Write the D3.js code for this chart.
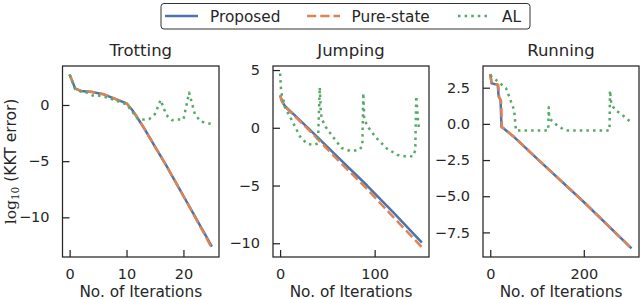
<!DOCTYPE html>
<html>
<head>
<meta charset="utf-8">
<script src="https://cdn.jsdelivr.net/npm/d3@7"></script>
<style>
  html, body { margin: 0; padding: 0; background: #fff; }
  svg { display: block; }
  text { font-family: "DejaVu Sans", sans-serif; fill: #262626; }
</style>
</head>
<body>
<svg id="chart" width="640" height="299"></svg>
<script>
// ---------------- data ----------------
const seriesNames = ["Proposed", "Pure-state", "AL"];
const panelTitles = ["Trotting", "Jumping", "Running"];

// Trotting
const trotX = [0,1,2,3,4,5,6,7,8,9,10,11,12,13,14,15,16,17,18,19,20,21,22,23,24,25];
const trotProposed = [2.7,1.45,1.25,1.2,1.15,1.05,0.95,0.75,0.55,0.35,0.15,-0.45,-1.2,-2.0,-2.85,-3.7,-4.55,-5.4,-6.3,-7.2,-8.1,-9.0,-9.9,-10.8,-11.7,-12.6];
const trotPure     = [2.7,1.45,1.25,1.2,1.15,1.05,0.95,0.75,0.55,0.35,0.15,-0.45,-1.2,-2.0,-2.85,-3.7,-4.55,-5.4,-6.3,-7.2,-8.1,-9.0,-9.95,-10.85,-11.8,-12.75];
const trotAL       = [2.7,1.4,1.2,1.1,0.85,0.85,0.75,0.6,0.4,0.25,0.05,-0.6,-1.25,-1.3,-1.25,-0.8,0.45,-0.9,-1.35,-1.3,-1.3,1.1,-0.8,-1.45,-1.6,-1.7];

// Jumping
const jumpX        = [0,2,5,30,60,92,120,150];
const jumpProposed = [2.8,2.3,1.9,-0.05,-2.45,-5.0,-7.35,-9.95];
const jumpPure     = [2.8,2.3,1.85,-0.15,-2.7,-5.3,-7.75,-10.35];
const jumpALX      = [0,1,2,3,5,14,21,28,35,40,42,43,44,48,57,65,74,83,87,88,89,94,102,113,124,134,141,143,144,146,147,148];
const jumpAL       = [4.7,3.3,2.75,2.6,1.8,0.4,-0.75,-1.35,-1.5,-1.35,3.5,1.5,0.8,0.1,-0.9,-1.75,-2.0,-1.95,-1.6,3.0,0.7,-0.05,-0.9,-1.8,-2.35,-2.5,-2.45,-1.9,2.75,0.5,-0.05,-0.1];

// Running
const runX         = [0,3,16,18,22,24,28,49,100,200,302];
const runProposed  = [3.45,2.8,2.7,1.9,1.65,-0.2,-0.3,-0.85,-2.4,-5.4,-8.6];
const runPureX     = [0,3,17,19,23,25,28,49,100,200,302];
const runPure      = [3.45,2.8,2.7,1.85,1.6,-0.25,-0.3,-0.85,-2.4,-5.4,-8.6];
const runALX       = [0,10,21,34,42,51,55,60,124,125,126,130,141,155,165,255,256,258,260,268,289,303];
const runAL        = [3.35,3.1,2.8,2.45,1.75,0.95,-0.45,-0.45,-0.45,1.15,0.4,0.27,-0.05,-0.35,-0.45,-0.45,2.3,1.6,1.3,0.95,0.45,0.05];

// tick values
const trotXTicks = [0,10,20],  trotYTicks = [0,-5,-10];
const jumpXTicks = [0,100],    jumpYTicks = [5,0,-5,-10];
const runXTicks  = [0,200],    runYTicks  = [2.5,0,-2.5,-5,-7.5];

// ---------------- style / layout ----------------
const colors = ["#4c72b0", "#dd8452", "#55a868"];
const dashes = [null, "9.25,4", "2.5,4.1"];
const lw = 2.5;
const TOP = 66, BOTTOM = 257;

const zip = (xs, ys) => xs.map((x, i) => [x, ys[i]]);

const panels = [
  { title: panelTitles[0], left: 62.5, right: 219, xDomain: [-1.25, 26.25], yDomain: [-13.53, 3.47],
    xTicks: trotXTicks, yTicks: trotYTicks, yFmt: d3.format("d"),
    series: [zip(trotX, trotProposed), zip(trotX, trotPure), zip(trotX, trotAL)] },
  { title: panelTitles[1], left: 273, right: 429, xDomain: [-7.5, 157.5], yDomain: [-11.19, 5.35],
    xTicks: jumpXTicks, yTicks: jumpYTicks, yFmt: d3.format("d"),
    series: [zip(jumpX, jumpProposed), zip(jumpX, jumpPure), zip(jumpALX, jumpAL)] },
  { title: panelTitles[2], left: 483, right: 639, xDomain: [-15.5, 318], yDomain: [-9.2, 4.0],
    xTicks: runXTicks, yTicks: runYTicks, yFmt: d3.format(".1f"),
    series: [zip(runX, runProposed), zip(runPureX, runPure), zip(runALX, runAL)] }
];

const svg = d3.select("#chart");
const defs = svg.append("defs");

panels.forEach((p, k) => {
  const x = d3.scaleLinear().domain(p.xDomain).range([p.left, p.right]);
  const y = d3.scaleLinear().domain(p.yDomain).range([BOTTOM, TOP]);
  const g = svg.append("g");

  defs.append("clipPath").attr("id", "clip" + k)
    .append("rect").attr("x", p.left).attr("y", TOP)
    .attr("width", p.right - p.left).attr("height", BOTTOM - TOP);

  const line = d3.line().x(d => x(d[0])).y(d => y(d[1]));
  const lines = g.append("g").attr("clip-path", `url(#clip${k})`);
  p.series.forEach((s, i) => {
    lines.append("path").datum(s)
      .attr("d", line)
      .attr("fill", "none")
      .attr("stroke", colors[i])
      .attr("stroke-width", lw)
      .attr("stroke-dasharray", dashes[i])
      .attr("stroke-linejoin", "round");
  });

  // axes (inward ticks)
  const xAxis = d3.axisBottom(x).tickValues(p.xTicks).tickSize(-7).tickPadding(12).tickFormat(d3.format("d"));
  const yAxis = d3.axisLeft(y).tickValues(p.yTicks).tickSize(-7).tickPadding(13).tickFormat(p.yFmt);
  const gx = g.append("g").attr("transform", `translate(0,${BOTTOM})`).call(xAxis);
  const gy = g.append("g").attr("transform", `translate(${p.left},0)`).call(yAxis);
  [gx, gy].forEach(a => {
    a.select(".domain").remove();
    a.selectAll(".tick line").attr("stroke", "#262626").attr("stroke-width", 1.25);
    a.selectAll(".tick text").attr("font-size", 14.5).attr("fill", "#262626")
      .attr("font-family", "DejaVu Sans, sans-serif");
  });

  // frame
  g.append("rect").attr("x", p.left).attr("y", TOP)
    .attr("width", p.right - p.left).attr("height", BOTTOM - TOP)
    .attr("fill", "none").attr("stroke", "#262626").attr("stroke-width", 1.25);

  // title
  g.append("text").attr("x", (p.left + p.right) / 2).attr("y", 56)
    .attr("text-anchor", "middle").attr("font-size", 16.5).text(p.title);

  // x label
  g.append("text").attr("x", (p.left + p.right) / 2).attr("y", 296.5)
    .attr("text-anchor", "middle").attr("font-size", 15.3).text("No. of Iterations");
});

// y label
const yl = svg.append("text")
  .attr("transform", `translate(16,${(TOP + BOTTOM) / 2}) rotate(-90)`)
  .attr("text-anchor", "middle").attr("font-size", 15.5);
yl.append("tspan").attr("font-family", "DejaVu Serif, serif").text("log");
yl.append("tspan").attr("font-family", "DejaVu Serif, serif").attr("font-size", 10.5).attr("dy", 3).text("10");
yl.append("tspan").attr("dy", -3).text(" (KKT error)");

// legend
const lg = svg.append("g");
lg.append("rect").attr("x", 161).attr("y", 3.5).attr("width", 369).attr("height", 25.5)
  .attr("rx", 3).attr("fill", "#fff").attr("stroke", "#333").attr("stroke-width", 1);
const legendLineX = [165, 307, 458];
const legendTextX = [210, 351.5, 502];
seriesNames.forEach((name, i) => {
  lg.append("line").attr("x1", legendLineX[i]).attr("x2", legendLineX[i] + 33)
    .attr("y1", 16).attr("y2", 16)
    .attr("stroke", colors[i]).attr("stroke-width", lw)
    .attr("stroke-dasharray", dashes[i]);
  lg.append("text").attr("x", legendTextX[i]).attr("y", 21.5)
    .attr("font-size", 15.3).text(name);
});
</script>
</body>
</html>
